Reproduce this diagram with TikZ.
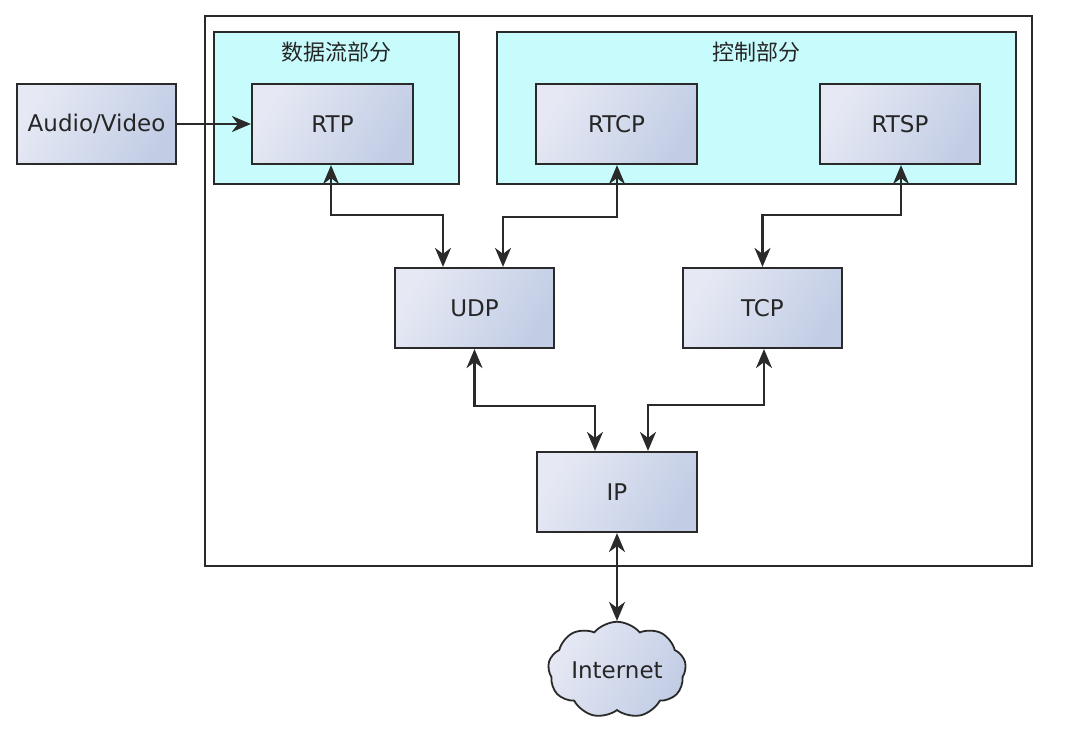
\documentclass[tikz,border=0pt]{standalone}
\usepackage{fontspec}
\setmainfont{DejaVu Sans}
\newfontfamily\cjk{Noto Sans CJK SC}
\usetikzlibrary{shapes.symbols,arrows.meta}
\definecolor{edge}{HTML}{2A2A2A}
\definecolor{boxl}{HTML}{E6E9F4}
\definecolor{boxr}{HTML}{C2CDE5}
\definecolor{grpfill}{HTML}{C8FCFC}
\definecolor{txt}{HTML}{262626}
\begin{document}
\begin{tikzpicture}[x=1pt,y=-1pt,
  blk/.style={draw=edge,line width=2.2pt,rectangle,left color=boxl,right color=boxr,shading angle=60,
    minimum height=80pt,inner sep=0pt,text=txt,font=\fontsize{23}{28}\selectfont},
  grp/.style={draw=edge,line width=2.2pt,fill=grpfill,rectangle,inner sep=0pt},
  conn/.style={draw=edge,line width=2.2pt,arrows={Stealth[length=19pt,width=16pt,inset=6pt]-Stealth[length=19pt,width=16pt,inset=6pt]}},
  conn1/.style={draw=edge,line width=2.2pt,arrows={-Stealth[length=19pt,width=16pt,inset=6pt]}},
  ttl/.style={text=txt,font=\cjk\fontsize{22}{26}\selectfont,inner sep=0pt}]
\useasboundingbox[fill=white] (0,0) rectangle (1090,730);
\node[draw=edge,line width=2.2pt,rectangle,minimum width=827pt,minimum height=550pt,inner sep=0pt] (outer) at (618.5,291) {};
\node[grp,minimum width=245pt,minimum height=152pt] (gdata) at (336.5,108) {};
\node[grp,minimum width=519pt,minimum height=152pt] (gctrl) at (756.5,108) {};
\node[ttl] (tdata) at (336,52) {数据流部分};
\node[ttl] (tctrl) at (756,52) {控制部分};
\node[blk,minimum width=159pt] (av) at (96.5,124) {Audio/Video};
\node[blk,minimum width=161pt] (rtp) at (332.5,124) {RTP};
\node[blk,minimum width=161pt] (rtcp) at (616.5,124) {RTCP};
\node[blk,minimum width=160pt] (rtsp) at (900,124) {RTSP};
\node[blk,minimum width=159pt] (udp) at (474.5,308) {UDP};
\node[blk,minimum width=159pt] (tcp) at (762.5,308) {TCP};
\node[blk,minimum width=160pt] (ip) at (617,492) {IP};
\node[draw=edge,line width=1.8pt,cloud,cloud puffs=9,cloud puff arc=100,aspect=1.6,
  left color=boxl,right color=boxr,shading angle=60,minimum width=138pt,minimum height=90pt,
  inner sep=0pt,text=txt,font=\fontsize{23}{28}\selectfont] (net) at (617,670) {Internet};
\draw[conn1] (av.east) -- (rtp.west);
\draw[conn] ([xshift=-1.5pt]rtp.south) -- ++(0,50) -| ([xshift=-31.5pt]udp.north);
\draw[conn] ([xshift=0.5pt]rtcp.south) -- ++(0,52) -| ([xshift=28.5pt]udp.north);
\draw[conn] ([xshift=1pt]rtsp.south) -- ++(0,50) -| (tcp.north);
\draw[conn] (udp.south) -- ++(0,57) -| ([xshift=-22pt]ip.north);
\draw[conn] ([xshift=1.5pt]tcp.south) -- ++(0,56) -| ([xshift=31pt]ip.north);
\draw[conn] (ip.south) -- (net.north);
\end{tikzpicture}
\end{document}
